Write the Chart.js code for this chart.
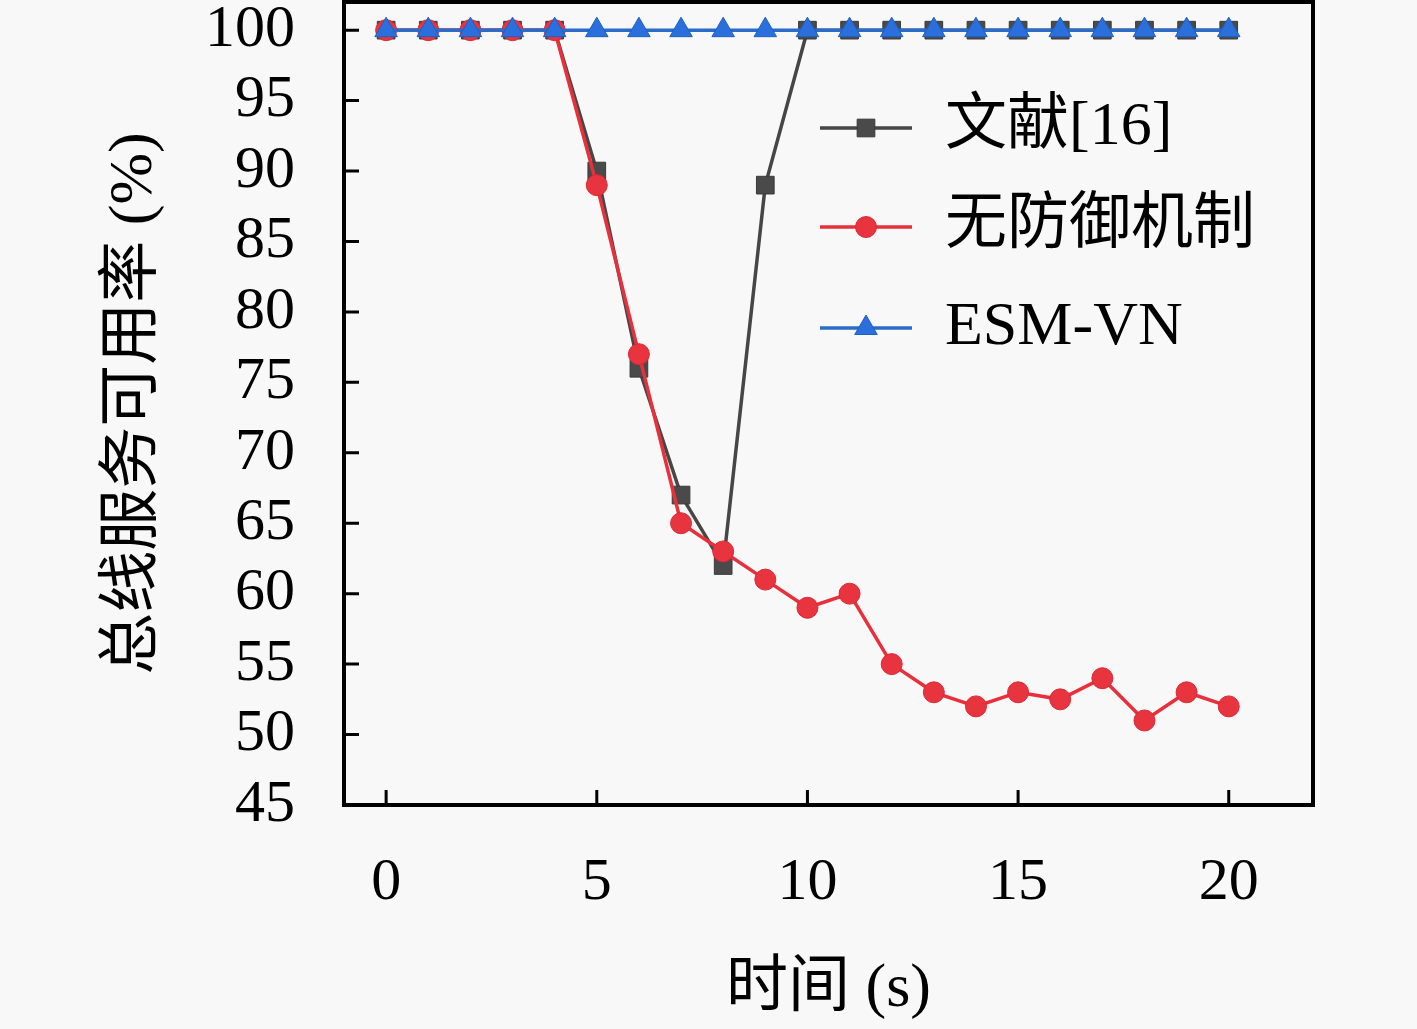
<!DOCTYPE html>
<html>
<head>
<meta charset="utf-8">
<script src="https://cdn.jsdelivr.net/npm/chart.js@4.4.0/dist/chart.umd.min.js"></script>
<style>
  html, body { margin: 0; padding: 0; background: #f8f8f8; }
  canvas { display: block; }
</style>
</head>
<body>
<canvas id="chart" width="1417" height="1029"></canvas>
<script>
// data
var timeVals = [0,1,2,3,4,5,6,7,8,9,10,11,12,13,14,15,16,17,18,19,20];
var seriesNames = ["文献[16]", "无防御机制", "ESM-VN"];
var refVals  = [100,100,100,100,100,90,76,67,62,89,100,100,100,100,100,100,100,100,100,100,100];
var noDefVals = [100,100,100,100,100,89,77,65,63,61,59,60,55,53,52,53,52.5,54,51,53,52];
var esmVals  = [100,100,100,100,100,100,100,100,100,100,100,100,100,100,100,100,100,100,100,100,100];
var xTicks = [0,5,10,15,20];
var yTicks = [45,50,55,60,65,70,75,80,85,90,95,100];

var FONT = "'Liberation Serif', 'Noto Sans CJK SC', serif";

function pts(vals){
  var out = [];
  for (var i = 0; i < timeVals.length; i++) out.push({x: timeVals[i], y: vals[i]});
  return out;
}

// box, inward ticks, axis titles and legend
var decor = {
  id: "decor",
  afterDraw: function(chart){
    var ctx = chart.ctx, a = chart.chartArea;
    var xs = chart.scales.x, ys = chart.scales.y;
    ctx.save();
    ctx.strokeStyle = "#000";
    ctx.lineWidth = 3;
    ctx.beginPath();
    xTicks.forEach(function(v){
      var px = xs.getPixelForValue(v);
      ctx.moveTo(px, a.bottom); ctx.lineTo(px, a.bottom - 15);
    });
    yTicks.forEach(function(v){
      var py = ys.getPixelForValue(v);
      ctx.moveTo(a.left, py); ctx.lineTo(a.left + 15, py);
    });
    ctx.stroke();
    ctx.lineWidth = 4;
    ctx.strokeRect(a.left, a.top, a.right - a.left, a.bottom - a.top);

    ctx.fillStyle = "#000";
    ctx.font = "62px " + FONT;
    ctx.textAlign = "center";
    ctx.textBaseline = "middle";
    ctx.fillText("时间 (s)", (a.left + a.right) / 2, 990);
    ctx.save();
    ctx.translate(135, (a.top + a.bottom) / 2);
    ctx.rotate(-Math.PI / 2);
    ctx.fillText("总线服务可用率 (%)", 0, 0);
    ctx.restore();

    // legend
    var rows = [128, 227, 328];
    chart.data.datasets.forEach(function(ds, i){
      var y = rows[i];
      ctx.strokeStyle = ds.borderColor;
      ctx.lineWidth = ds.borderWidth;
      ctx.beginPath(); ctx.moveTo(820, y); ctx.lineTo(912, y); ctx.stroke();
      ctx.fillStyle = ds.pointBackgroundColor;
      ctx.strokeStyle = ds.pointBorderColor;
      ctx.lineWidth = 1;
      Chart.helpers.drawPoint(ctx, {
        pointStyle: ds.pointStyle, radius: ds.pointRadius, borderWidth: 1, rotation: 0
      }, 866, y);
      ctx.fillStyle = "#000";
      ctx.textAlign = "left";
      ctx.fillText(ds.label, 945, y);
    });
    ctx.restore();
  }
};

new Chart(document.getElementById("chart"), {
  type: "line",
  data: {
    datasets: [
      {
        label: seriesNames[0], data: pts(refVals), order: 3,
        borderColor: "#464646", borderWidth: 3.5,
        pointStyle: "rect", pointRadius: 12.5,
        pointBackgroundColor: "#4a4a4a", pointBorderColor: "#3a3a3a", pointBorderWidth: 1
      },
      {
        label: seriesNames[1], data: pts(noDefVals), order: 2,
        borderColor: "#e8303c", borderWidth: 3.5,
        pointStyle: "circle", pointRadius: 10.5,
        pointBackgroundColor: "#e8343f", pointBorderColor: "#d82a35", pointBorderWidth: 1
      },
      {
        label: seriesNames[2], data: pts(esmVals), order: 1,
        borderColor: "#2a6cc8", borderWidth: 3.5,
        pointStyle: "triangle", pointRadius: 13,
        pointBackgroundColor: "#2b6fdc", pointBorderColor: "#1f5fc0", pointBorderWidth: 1
      }
    ]
  },
  options: {
    responsive: false,
    devicePixelRatio: 1,
    animation: false,
    layout: { autoPadding: false, padding: { top: 2, right: 104, left: 0, bottom: 0 } },
    plugins: { legend: { display: false }, tooltip: { enabled: false } },
    scales: {
      x: {
        type: "linear", min: -1, max: 22,
        afterBuildTicks: function(s){ s.ticks = xTicks.map(function(v){ return {value: v}; }); },
        afterFit: function(s){ s.height = 224; s.paddingLeft = 0; s.paddingRight = 0; },
        grid: { display: false, drawTicks: false },
        border: { display: false },
        ticks: { color: "#000", padding: 42, maxRotation: 0, autoSkip: false, font: { family: FONT, size: 60 } }
      },
      y: {
        min: 45, max: 102,
        afterBuildTicks: function(s){ s.ticks = yTicks.map(function(v){ return {value: v}; }); },
        afterFit: function(s){ s.width = 344; s.paddingTop = 0; s.paddingBottom = 0; },
        grid: { display: false, drawTicks: false },
        border: { display: false },
        ticks: { color: "#000", padding: 49, autoSkip: false, font: { family: FONT, size: 60 } }
      }
    }
  },
  plugins: [decor]
});
</script>
</body>
</html>
